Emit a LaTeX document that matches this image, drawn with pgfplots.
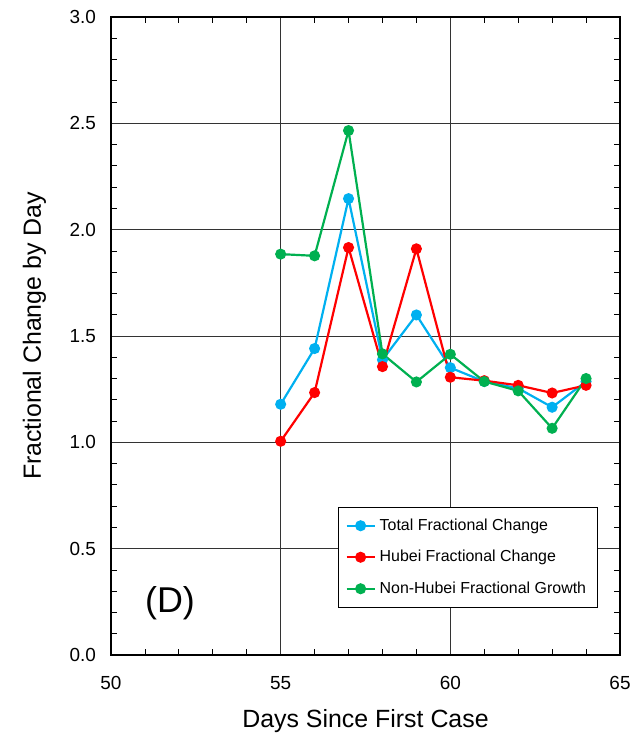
\documentclass[border=0pt]{standalone}
\usepackage{fontspec}
\setmainfont{Liberation Sans}
\usepackage{pgfplots}
\pgfplotsset{compat=1.18}

\definecolor{totblue}{RGB}{0,176,240}
\definecolor{hubred}{RGB}{255,0,0}
\definecolor{nongreen}{RGB}{0,176,80}

\pgfplotstableread{
day total hubei nonhubei
55 1.179 1.005 1.885
56 1.441 1.234 1.877
57 2.146 1.916 2.466
58 1.388 1.356 1.416
59 1.599 1.910 1.284
60 1.351 1.306 1.414
61 1.286 1.290 1.286
62 1.254 1.268 1.242
63 1.165 1.232 1.066
64 1.286 1.268 1.300
}\datatable

\begin{document}
\begin{tikzpicture}
\begin{axis}[
    scale only axis,
    width=254.5bp, height=319bp,
    xmin=50, xmax=65, ymin=0, ymax=3,
    xtick={50,55,60,65},
    ytick={0,0.5,...,3.0},
    minor x tick num=4,
    minor y tick num=4,
    tick align=inside,
    major tick length=0pt,
    minor tick length=3bp,
    every tick/.style={black, line width=0.4pt},
    grid=major,
    major grid style={black!80, line width=0.5pt},
    axis line style={black, line width=0.9pt},
    y tick label style={/pgf/number format/fixed, /pgf/number format/fixed zerofill,
        /pgf/number format/precision=1},
    /pgf/number format/assume math mode=true,
    tick label style={font=\fontsize{9.5}{11}\selectfont},
    x tick label style={yshift=-7bp},
    y tick label style={xshift=-4bp},
    xlabel={Days Since First Case},
    ylabel={Fractional Change by Day},
    label style={font=\fontsize{12.5}{14}\selectfont},
    xlabel style={yshift=-3bp},
    ylabel style={yshift=5bp},
    legend style={at={(0.446,0.232)}, anchor=north west, draw=black, line width=0.5pt,
        font=\fontsize{8}{9}\selectfont, row sep=4.5bp, inner sep=3.5bp},
    legend cell align=left,
    legend image code/.code={
        \draw[#1] (0bp,0bp) -- (14bp,0bp);
        \draw[#1, only marks] plot coordinates {(7bp,0bp)};
    },
    every axis plot/.append style={line width=1.1pt, mark=*, mark size=2.2bp,
        mark options={draw=black!70, line width=0.3pt}},
]
\addplot[color=totblue, mark options={fill=totblue}] table[x=day, y=total] {\datatable};
\addlegendentry{Total Fractional Change}
\addplot[color=hubred, mark options={fill=hubred}] table[x=day, y=hubei] {\datatable};
\addlegendentry{Hubei Fractional Change}
\addplot[color=nongreen, mark options={fill=nongreen}] table[x=day, y=nonhubei] {\datatable};
\addlegendentry{Non-Hubei Fractional Growth}
\node[font=\fontsize{18}{20}\selectfont] at (axis cs:51.74,0.245) {(D)};
\end{axis}
\path[use as bounding box] ([xshift=-55.5bp,yshift=-43.5bp]current axis.south west)
    rectangle ([xshift=7bp,yshift=8.5bp]current axis.north east);
\end{tikzpicture}
\end{document}
